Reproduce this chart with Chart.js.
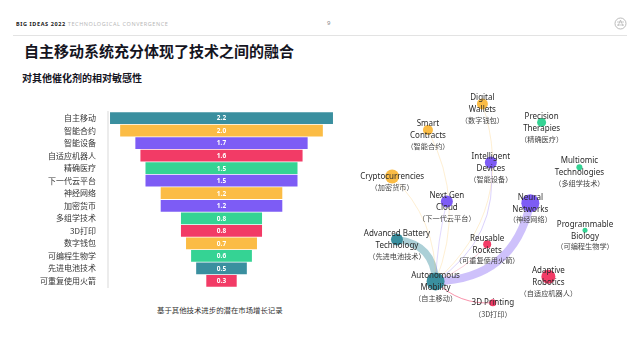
<!DOCTYPE html>
<html>
<head>
<meta charset="utf-8">
<script src="https://cdn.jsdelivr.net/npm/chart.js@4.4.0/dist/chart.umd.min.js"></script>
<style>
  body { margin:0; background:#fff; font-family:"Noto Sans CJK SC","Noto Sans",sans-serif; }
  #page { position:relative; width:640px; height:349px; overflow:hidden; }
  .abs { position:absolute; white-space:nowrap; }
  #hdr { left:16px; top:20px; font-size:5.5px; letter-spacing:0.6px; font-family:"Noto Sans",sans-serif; }
  #hdr b { color:#222; }
  #hdr span { color:#b8b8b8; }
  #pnum { left:327px; top:19px; font-size:6px; color:#888; font-family:"Noto Sans",sans-serif; }
  #rule { left:13px; top:35px; width:614px; height:1px; background:#e3e3e3; }
  #titre { left:24px; top:40px; font-size:15px; font-weight:700; color:#15151f; }
  #soustitre { left:22px; top:70px; font-size:10px; font-weight:700; color:#15151f; }
  #legende { left:157px; top:304px; font-size:7.4px; color:#333; }
  #barres { left:0; top:103px; }
  #reseau { left:340px; top:80px; }
</style>
</head>
<body>
<div id="page">
  <div id="hdr" class="abs"><b>BIG IDEAS 2022</b> <span>TECHNOLOGICAL CONVERGENCE</span></div>
  <div id="pnum" class="abs">9</div>
  <svg class="abs" style="left:614px;top:17px" width="13" height="13" viewBox="0 0 13 13">
    <circle cx="6.5" cy="6.5" r="5.5" fill="none" stroke="#aaa" stroke-width="0.8"/>
    <path d="M3 5 L10 5 M4 9 L6.5 3 L9 9 M3 8 L10 8" stroke="#aaa" stroke-width="0.6" fill="none"/>
  </svg>
  <div id="rule" class="abs"></div>
  <div id="titre" class="abs">自主移动系统充分体现了技术之间的融合</div>
  <div id="soustitre" class="abs">对其他催化剂的相对敏感性</div>
  <div id="legende" class="abs">基于其他技术进步的潜在市场增长记录</div>
  <div id="barres" class="abs"><canvas id="cBarres" width="340" height="193"></canvas></div>
  <div id="reseau" class="abs"><canvas id="cReseau" width="300" height="255"></canvas></div>
</div>
<script>
// couleurs
const teal = "#3a8f9f", jaune = "#fbbc45", violet = "#7d5cf5", rouge = "#f23b66", vert = "#35d394"

// données barres
const categories = ["自主移动","智能合约","智能设备","自适应机器人","精确医疗","下一代云平台","神经网络","加密货币","多组学技术","3D打印","数字钱包","可编程生物学","先进电池技术","可重复使用火箭"]
const valeurs = [2.2, 2.0, 1.7, 1.6, 1.5, 1.5, 1.2, 1.2, 0.8, 0.8, 0.7, 0.6, 0.5, 0.3]
const couleursBarres = [teal, jaune, violet, rouge, vert, violet, jaune, violet, vert, rouge, jaune, vert, teal, rouge]

// données réseau
const noeudsEn = [["Autonomous","Mobility"],["Smart","Contracts"],["Intelligent","Devices"],["Adaptive","Robotics"],["Precision","Therapies"],["Next Gen","Cloud"],["Neural","Networks"],["Cryptocurrencies"],["Multiomic","Technologies"],["3D Printing"],["Digital","Wallets"],["Programmable","Biology"],["Advanced Battery","Technology"],["Reusable","Rockets"]]
const noeudsCn = ["（自主移动）","（智能合约）","（智能设备）","（自适应机器人）","（精确医疗）","（下一代云平台）","（神经网络）","（加密货币）","（多组学技术）","（3D打印）","（数字钱包）","（可编程生物学）","（先进电池技术）","（可重复使用火箭）"]
const noeudsX = [30.7, 28, 50.3, 70.7, 68.3, 34.7, 64.3, 15.3, 81.7, 51, 47.3, 83.7, 17, 49]
const noeudsY = [18.8, 82.7, 69, 20.8, 85.9, 52.5, 51.8, 63.1, 67, 9.8, 93.7, 40.4, 36.5, 34.5]
const noeudsR = [9, 5, 6, 7, 4.5, 6, 9, 7, 3, 3.5, 5.5, 2.5, 6, 4]
const couleursNoeuds = [teal, jaune, violet, rouge, vert, violet, violet, jaune, vert, rouge, jaune, vert, teal, rouge]
// liens depuis autonomous mobility : cible, epaisseur, courbure
const liensCible = [6, 12, 1, 10, 2, 7, 5, 13, 9]
const liensEpaisseur = [8, 7, 0.8, 0.8, 0.8, 0.8, 0.8, 0.8, 1]
const liensCourbe = [48, 24, 35, 60, 40, 25, -4, 8, 14]
const liensAlpha = [0.38, 0.42, 0.3, 0.3, 0.35, 0.3, 0.3, 0.3, 0.55]

// etiquettes des valeurs dans les barres
const pluginValeurs = {
  id: "valeurs",
  afterDatasetsDraw(chart) {
    const ctx = chart.ctx
    const meta = chart.getDatasetMeta(0)
    ctx.save()
    ctx.fillStyle = "#fff"
    ctx.font = "bold 6.5px 'Noto Sans', sans-serif"
    ctx.textAlign = "center"
    ctx.textBaseline = "middle"
    meta.data.forEach((bar, i) => {
      ctx.fillText(valeurs[i].toFixed(1), (bar.x + bar.base) / 2, bar.y + 0.5)
    })
    ctx.restore()
  }
}

new Chart(document.getElementById("cBarres"), {
  type: "bar",
  data: {
    labels: categories,
    datasets: [{
      data: valeurs.map(v => [-v / 2, v / 2]),
      backgroundColor: couleursBarres,
      barPercentage: 0.94,
      categoryPercentage: 1
    }]
  },
  options: {
    indexAxis: "y",
    responsive: false,
    animation: false,
    layout: { padding: { left: 0, right: 5, top: 0, bottom: 0 } },
    plugins: { legend: { display: false }, tooltip: { enabled: false } },
    scales: {
      x: { display: false, min: -1.12, max: 1.12 },
      y: {
        afterFit: s => { s.width = 108 },
        grid: { display: false },
        border: { color: "#ececec", width: 2 },
        ticks: { color: "#333", padding: 4, font: { size: 8, family: "'Noto Sans CJK SC'" } }
      }
    }
  },
  plugins: [pluginValeurs]
})

// liens courbes et etiquettes du réseau
const pluginReseau = {
  id: "reseau",
  beforeDatasetsDraw(chart) {
    const ctx = chart.ctx
    const sx = chart.scales.x, sy = chart.scales.y
    const x0 = sx.getPixelForValue(noeudsX[0]), y0 = sy.getPixelForValue(noeudsY[0])
    ctx.save()
    ctx.lineCap = "round"
    liensCible.forEach((c, i) => {
      const x1 = sx.getPixelForValue(noeudsX[c]), y1 = sy.getPixelForValue(noeudsY[c])
      const dx = x1 - x0, dy = y1 - y0, l = Math.hypot(dx, dy)
      const cx = (x0 + x1) / 2 + (-dy / l) * liensCourbe[i]
      const cy = (y0 + y1) / 2 + (dx / l) * liensCourbe[i]
      ctx.globalAlpha = liensAlpha[i]
      ctx.strokeStyle = couleursNoeuds[c]
      ctx.lineWidth = liensEpaisseur[i]
      ctx.beginPath()
      ctx.moveTo(x0, y0)
      ctx.quadraticCurveTo(cx, cy, x1, y1)
      ctx.stroke()
    })
    ctx.restore()
  },
  afterDatasetsDraw(chart) {
    const ctx = chart.ctx
    const sx = chart.scales.x, sy = chart.scales.y
    ctx.save()
    ctx.textAlign = "center"
    ctx.textBaseline = "middle"
    noeudsEn.forEach((lignes, i) => {
      const x = sx.getPixelForValue(noeudsX[i]), y = sy.getPixelForValue(noeudsY[i])
      ctx.fillStyle = "#2a2a2a"
      ctx.font = "8px 'Noto Sans', sans-serif"
      if (lignes.length == 2) {
        ctx.fillText(lignes[0], x, y - 6)
        ctx.fillText(lignes[1], x, y + 6)
      } else {
        ctx.fillText(lignes[0], x, y)
      }
      ctx.fillStyle = "#444"
      ctx.font = "7.2px 'Noto Sans CJK SC', sans-serif"
      ctx.fillText(noeudsCn[i], x, y + (lignes.length == 2 ? 16.5 : 11))
    })
    ctx.restore()
  }
}

new Chart(document.getElementById("cReseau"), {
  type: "bubble",
  data: {
    datasets: [{
      data: noeudsX.map((x, i) => ({ x: x, y: noeudsY[i], r: noeudsR[i] })),
      backgroundColor: couleursNoeuds,
      borderWidth: 0,
      clip: false
    }]
  },
  options: {
    responsive: false,
    animation: false,
    layout: { padding: 0 },
    plugins: { legend: { display: false }, tooltip: { enabled: false } },
    scales: {
      x: { display: false, min: 0, max: 100 },
      y: { display: false, min: 0, max: 100 }
    }
  },
  plugins: [pluginReseau]
})
</script>
</body>
</html>
